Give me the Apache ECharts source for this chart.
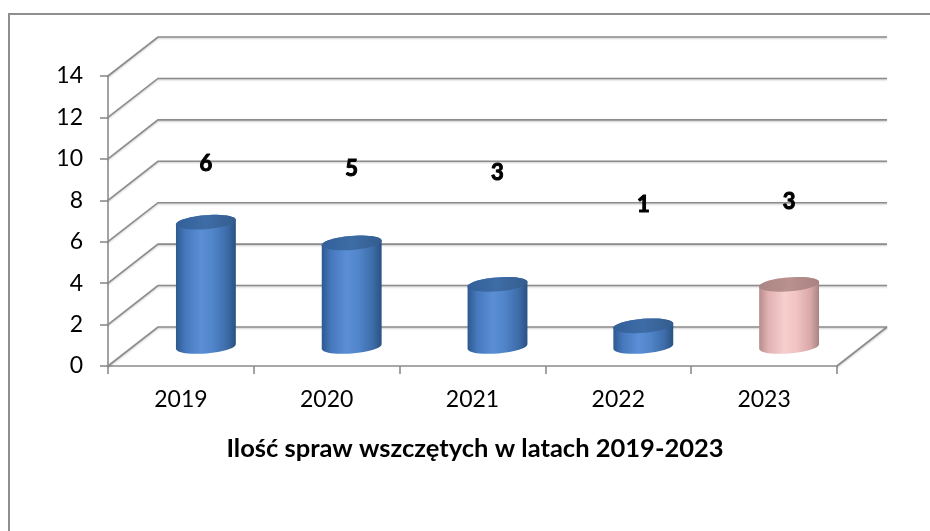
<!DOCTYPE html>
<html><head><meta charset="utf-8">
<script src="https://cdn.jsdelivr.net/npm/echarts@6/dist/echarts.min.js"></script>
<style>html,body{margin:0;padding:0;background:#fff}#c{width:930px;height:531px}</style>
</head><body><div id="c"></div>
<script>
// ---- data ----
const categories = ['2019', '2020', '2021', '2022', '2023'];
const values = [6, 5, 3, 1, 3];
const yTicks = [0, 2, 4, 6, 8, 10, 12, 14];
const titleText = 'Ilość spraw wszczętych w latach 2019-2023';

// ---- style ----
const DEPTH_X = 50, DEPTH_Y = 39;
const GRID_COLOR = '#8c8c8c';
const FONT = 'Lato';
const ROT = -0.08;
const labelOffsets = [-58, -74, -111, -121, -82];
const BLUE = {
  body: [[0, '#2d5990'], [0.15, '#4677bb'], [0.42, '#5a8fd6'], [0.62, '#5085ca'], [0.86, '#3c6ba7'], [1, '#2a5182']],
  cap: [[0, '#33609a'], [0.5, '#3e6ca5'], [1, '#335d8e']]
};
const PINK = {
  body: [[0, '#b68c8c'], [0.15, '#e2b1b1'], [0.42, '#f6cfcf'], [0.62, '#f2c3c3'], [0.86, '#d8a8a8'], [1, '#a88383']],
  cap: [[0, '#ab8684'], [0.5, '#b9918f'], [1, '#a88281']]
};
const palettes = [BLUE, BLUE, BLUE, BLUE, PINK];

function grad(stops) {
  return new echarts.graphic.LinearGradient(0, 0, 1, 0, stops.map(s => ({offset: s[0], color: s[1]})));
}
function ellPt(cx, cy, rx, ry, t) {
  const c = Math.cos(ROT), s = Math.sin(ROT);
  const x = rx * Math.cos(t), y = ry * Math.sin(t);
  return [cx + x * c - y * s, cy + x * s + y * c];
}
const lineStyle = {stroke: GRID_COLOR, lineWidth: 1.6, fill: null,
  shadowBlur: 2, shadowColor: 'rgba(0,0,0,0.22)', shadowOffsetY: 1};

function renderWall(params, api) {
  const v = api.value(1);
  const cs = params.coordSys;
  const y = api.coord([0, v])[1];
  const x0 = cs.x, x1 = cs.x + cs.width;
  const children = [{
    type: 'polyline',
    shape: {points: [[x0, y], [x0 + DEPTH_X, y - DEPTH_Y], [x1 + DEPTH_X, y - DEPTH_Y]]},
    style: lineStyle
  }];
  if (v === yTicks[0]) {
    children.push({type: 'line', shape: {x1: x1, y1: y, x2: x1 + DEPTH_X, y2: y - DEPTH_Y}, style: lineStyle});
  }
  return {type: 'group', children};
}

function renderCyl(params, api) {
  const i = params.dataIndex;
  const v = api.value(1);
  const base = api.coord([i, 0]);
  const top = api.coord([i, v]);
  const band = api.size([1, 0])[0];
  const cx = base[0] + DEPTH_X / 2;
  const by = base[1] - DEPTH_Y / 2;
  const ty = top[1] - DEPTH_Y / 2;
  const rx = band * 0.206, ry = 7;
  const pal = palettes[i];
  const body = [];
  const N = 24;
  for (let k = 0; k <= N; k++) body.push(ellPt(cx, by, rx, ry, Math.PI * k / N));
  for (let k = 0; k <= N; k++) body.push(ellPt(cx, ty, rx, ry, Math.PI + Math.PI * k / N));
  const cap = [];
  for (let k = 0; k < 2 * N; k++) cap.push(ellPt(cx, ty, rx, ry, Math.PI * k / N));
  return {
    type: 'group',
    children: [
      {type: 'polygon', shape: {points: body}, style: {fill: grad(pal.body)}},
      {type: 'polygon', shape: {points: cap}, style: {fill: grad(pal.cap)}},
      {type: 'text', x: cx, y: ty + labelOffsets[i], z2: 10,
        style: {text: String(values[i]), fill: '#000', stroke: '#000', lineWidth: 1,
          font: 'bold 22px ' + FONT, fontFamily: FONT, fontWeight: 'bold', fontSize: 22,
          align: 'center', verticalAlign: 'middle'}}
    ]
  };
}

const chart = echarts.init(document.getElementById('c'), null, {renderer: 'canvas'});
chart.setOption({
  animation: false,
  backgroundColor: '#fff',
  graphic: [{
    type: 'rect', shape: {x: 9, y: 14, width: 1000, height: 1000},
    style: {fill: null, stroke: '#8e8e8e', lineWidth: 2}, z: 0
  }],
  title: {
    text: titleText, left: 470, top: 431, textAlign: 'center',
    textStyle: {fontFamily: FONT, fontWeight: 'bold', fontSize: 25.5, color: '#000'}
  },
  grid: {left: 108, top: 76, width: 729, height: 290},
  xAxis: {
    type: 'category', data: categories, boundaryGap: true,
    axisLine: {lineStyle: {color: GRID_COLOR, width: 1.6}},
    axisTick: {show: true, length: 8, lineStyle: {color: GRID_COLOR, width: 1.6}},
    axisLabel: {color: '#000', fontFamily: FONT, fontSize: 23, margin: 22}
  },
  yAxis: {
    type: 'value', min: 0, max: 14, interval: 2,
    axisLine: {show: true, lineStyle: {color: GRID_COLOR, width: 1.6}},
    axisTick: {show: true, length: 8, lineStyle: {color: GRID_COLOR, width: 1.6}},
    axisLabel: {color: '#000', fontFamily: FONT, fontSize: 23, margin: 25},
    splitLine: {show: false}
  },
  series: [
    {type: 'custom', clip: false, z: 1, renderItem: renderWall,
      data: yTicks.map(v => [0, v]), encode: {x: 0, y: 1}, silent: true},
    {type: 'custom', clip: false, z: 3, renderItem: renderCyl,
      data: values.map((v, i) => [i, v]), encode: {x: 0, y: 1}}
  ]
});
</script></body></html>
